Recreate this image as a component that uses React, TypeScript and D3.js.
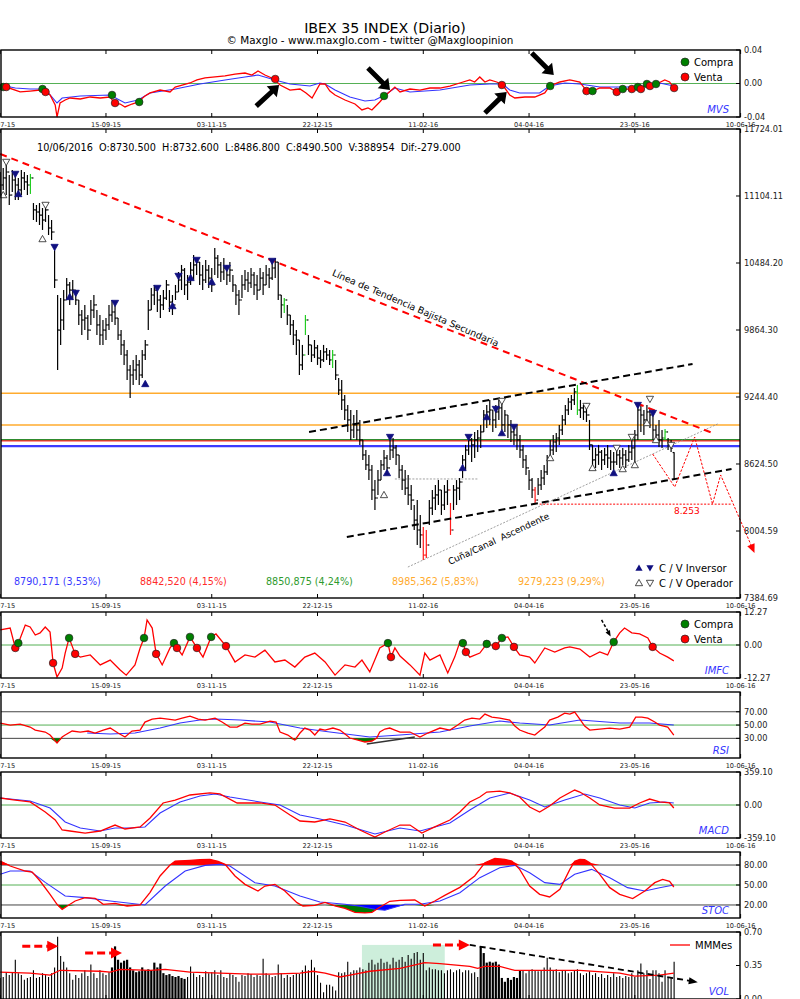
import React from 'react';
import * as d3 from 'd3';

// ---------------- DATA ----------------
const DATE_LABELS = ['28-07-15', '15-09-15', '03-11-15', '22-12-15', '11-02-16', '04-04-16', '23-05-16', '10-06-16'];
const DATE_INDEX = [0, 35, 70, 105, 140, 175, 210, 245];

const HIGH = [11326,11363,11391,11298,11345,11326,11271,11345,11326,11298,11308,11039,11021,11039,10993,11021,10928,10882,10604,10188,
10160,10234,10345,10308,10327,10234,10142,10049,10096,10003,10142,10188,10049,10003,9957,9975,10096,10142,10096,9975,
9864,9772,9679,9541,9587,9633,9587,9679,9772,10142,10253,10281,10234,10188,10234,10327,10234,10188,10281,10401,
10466,10438,10373,10493,10558,10530,10493,10466,10512,10466,10438,10623,10558,10493,10530,10466,10493,10373,10281,10234,
10373,10419,10401,10438,10401,10373,10438,10401,10466,10438,10493,10530,10493,10188,10160,10096,10003,9957,9864,9772,
9726,10003,9818,9726,9772,9726,9679,9726,9698,9679,9679,9587,9420,9402,9263,9171,9124,9078,9124,9032,
8847,8754,8708,8616,8476,8569,8662,8754,8708,8847,8865,8801,8708,8616,8569,8523,8430,8245,8291,8153,
8042,8014,8291,8384,8430,8476,8384,8430,8476,8264,8430,8476,8495,8708,8801,8893,8865,8921,8939,8986,
9124,9171,9217,9124,9171,9217,9198,9124,9078,9032,8986,8986,8893,8801,8708,8569,8495,8412,8495,8569,
8616,8708,8847,8893,8912,8986,9078,9171,9235,9263,9328,9356,9217,9171,9189,9032,8801,8773,8801,8754,
8773,8801,8754,8735,8773,8754,8773,8754,8801,8847,8939,9171,9171,9124,9171,9143,9124,8986,9032,8939,
8949,8865,8847,8732.6];
const LOW = [11086,11160,11113,11021,11141,11067,11067,11113,11160,11113,11123,10882,10864,10836,10790,10864,10743,10697,10253,9494,
9726,9864,10142,10096,10142,10096,9911,9818,9864,9772,9911,9975,9818,9726,9726,9772,9864,9938,9911,9772,
9633,9541,9402,9235,9356,9402,9356,9420,9587,9864,10049,10096,10031,9975,10049,10142,10031,10003,10142,10216,
10234,10188,10142,10281,10327,10373,10281,10234,10299,10253,10216,10373,10345,10308,10327,10281,10308,10216,10096,10003,
10160,10234,10216,10253,10188,10142,10234,10188,10281,10253,10327,10345,10142,9975,10021,9911,9818,9726,9633,9448,
9494,9818,9633,9568,9605,9541,9513,9568,9587,9541,9513,9402,9263,9124,9032,8921,8847,8865,8847,8801,
8662,8569,8476,8291,8199,8338,8476,8569,8523,8662,8680,8616,8495,8384,8338,8245,8199,8014,7875,7847,
7736,7755,8060,8153,8199,8245,8153,8199,8245,7968,8199,8245,8291,8495,8569,8708,8643,8680,8735,8773,
8921,8958,8986,8921,8958,9032,8939,8921,8865,8828,8801,8754,8680,8588,8523,8384,8310,8264,8338,8384,
8430,8523,8662,8708,8735,8801,8893,8986,9078,9124,9171,9078,9050,9032,9013,8754,8588,8588,8616,8569,
8616,8588,8569,8569,8616,8588,8616,8588,8643,8662,8616,8847,8921,8893,8986,8958,8847,8828,8782,8773,
8847,8754,8735,8486.8];
const CLOSE = [11206,11271,11326,11113,11252,11206,11160,11271,11234,11206,11271,10975,10956,10928,10882,10975,10808,10771,10327,9864,
9957,10142,10281,10234,10234,10142,10003,9957,9975,9864,10049,10096,9911,9818,9864,9911,10003,10031,9975,9818,
9726,9633,9494,9448,9494,9541,9448,9633,9726,10049,10188,10234,10142,10096,10160,10281,10123,10096,10216,10327,
10419,10281,10308,10419,10466,10493,10373,10327,10419,10345,10281,10530,10466,10401,10438,10373,10419,10281,10188,10142,
10281,10327,10299,10373,10281,10234,10345,10281,10373,10345,10438,10493,10188,10096,10142,10003,9911,9818,9772,9541,
9633,9957,9726,9633,9698,9605,9587,9661,9633,9587,9633,9448,9309,9217,9124,9032,8939,8986,8939,8847,
8708,8616,8569,8384,8310,8476,8616,8680,8588,8754,8773,8708,8569,8476,8402,8338,8291,8106,8014,7968,
7782,7875,8217,8310,8338,8384,8245,8365,8384,8014,8384,8402,8458,8662,8754,8847,8801,8847,8865,8921,
9078,9106,9124,9032,9106,9143,8986,9078,8986,8921,8893,8847,8754,8662,8588,8476,8384,8291,8430,8495,
8551,8662,8754,8828,8865,8939,9032,9124,9198,9217,9291,9124,9143,9106,9078,8801,8662,8708,8735,8662,
8708,8680,8643,8643,8708,8680,8708,8662,8735,8773,8893,9124,9078,9032,9106,9078,8939,8893,8847,8865,
8921,8810,8769.5,8490.5];
const LAST_OPEN = 8730.5;
const LAST_DATE = '10/06/2016';
const LAST_VOLUME = 388954;
const GREEN_BARS = [10, 94, 101, 110, 191, 220];
const RED_BARS = [140, 141, 149, 177];

// markers: [index, type, price]  IB/IS = investor buy/sell, OB/OS = operator buy/sell
const SIGNALS: [number, string, number][] = [
  [1,'OB',11113],[2,'OS',11419],[5,'IS',11308],[6,'IB',11123],[14,'OB',10706],[15,'OS',11021],[18,'IS',10632],
  [23,'IB',10170],[25,'IS',10207],[38,'IS',10114],[48,'IB',9365],[52,'IS',10253],[57,'IB',10086],[59,'IS',10364],
  [63,'IB',10346],[65,'IS',10512],[70,'IB',10309],[75,'IS',10438],[90,'IS',10503],[127,'OB',8338],[128,'IB',8541],
  [129,'IS',8874],[153,'IB',8588],[155,'IS',8874],[161,'IB',9059],[164,'IS',9133],[166,'OS',9207],[166,'IB',8911],
  [170,'IS',8967],[182,'OB',8680],[194,'OS',9161],[196,'OB',8588],[203,'IB',8541],[204,'OS',8773],[206,'OB',8578],
  [209,'OS',8874],[210,'OB',8615],[211,'IS',9170],[214,'OB',9004],[215,'OS',9226],[216,'IS',9096],[217,'OB',8847],[222,'OS',8800]
];

const MAIN_TICKS = [11724.01, 11104.11, 10484.20, 9864.30, 9244.40, 8624.50, 8004.59, 7384.69];
const LEVELS = [8790.171, 8842.520, 8850.875, 8985.362, 9279.223];
const LEVEL_PCT = [3.53, 4.15, 4.24, 5.83, 9.29];
const TARGET = 8253;

const MVS_RED: [number, number][] = [[0,-0.0038],[2,-0.0042],[6.6,-0.0101],[9.9,-0.009],[13.2,-0.0078],[14.9,-0.0101],[16.5,-0.0137],[18.2,-0.0257],[18.8,-0.04],[19.8,-0.0233],[21.5,-0.0197],[23.1,-0.0173],[26.5,-0.0185],[29.8,-0.0161],[33.1,-0.0173],[36.4,-0.0161],[37.7,-0.0233],[39.7,-0.0245],[41.3,-0.028],[43.6,-0.0245],[45.6,-0.0221],[47.9,-0.0149],[49.6,-0.0113],[52.9,-0.0078],[56.2,-0.0101],[57.9,-0.0042],[60.2,-0.0018],[62.8,0.0006],[65.1,0.0042],[67.8,0.0066],[71.1,0.0078],[74.4,0.009],[77.7,0.0113],[81,0.0125],[83.3,0.0101],[85.3,0.0149],[87.6,0.0101],[90.6,0.0054],[92.6,-0.0018],[95.9,-0.0078],[99.2,-0.0066],[101.2,-0.0113],[103.2,-0.0173],[105.8,-0.0006],[107.5,-0.0006],[109.1,-0.009],[110.8,-0.0137],[114.1,-0.0197],[117.4,-0.0245],[119.7,-0.0316],[121.7,-0.0292],[123,-0.0316],[125.6,-0.0221],[127.3,-0.0149],[130.6,-0.0042],[132.3,-0.0101],[135.6,-0.0066],[138.9,-0.0078],[142.2,-0.0054],[145.5,-0.0054],[148.8,-0.003],[152.1,0.0006],[155.4,0.0042],[157,0.0018],[158.7,0.0078],[160.4,0.0018],[162,0.0042],[164.3,0.0018],[166.3,-0.0018],[168.6,-0.0137],[170.3,-0.0173],[173.6,-0.0161],[176.9,-0.0161],[180.2,-0.0113],[181.8,-0.003],[185.2,0.0018],[188.5,0.0042],[191.8,0.0018],[194.1,-0.009],[196.1,-0.009],[198.4,-0.0054],[201.7,-0.0054],[204,-0.0101],[206,-0.0066],[209,-0.0066],[212,-0.0066],[214,-0.0006],[214.9,-0.003],[217.2,-0.0006],[219.9,0.0042],[221.5,0.0018],[222.9,-0.0054]];
const MVS_BLUE: [number, number][] = [[0,-0.0018],[5,-0.0054],[9.9,-0.0066],[14.9,-0.0066],[18.8,-0.0233],[20.5,-0.0173],[26.5,-0.0149],[36.4,-0.0137],[41.3,-0.0233],[45.6,-0.0197],[49.6,-0.0113],[57.9,-0.0066],[66.1,-0.0006],[74.4,0.0042],[81,0.0078],[85.3,0.0101],[90.9,0.0042],[95.9,-0.0006],[102.5,-0.003],[105.8,0.0006],[107.5,-0.0006],[110.8,-0.0078],[115.7,-0.0161],[120.7,-0.0209],[124,-0.0197],[127.3,-0.0137],[130.6,-0.0054],[135.6,-0.0101],[145.5,-0.0078],[155.4,-0.0018],[162,-0.0006],[166.3,-0.0006],[168.6,-0.0078],[171.9,-0.0113],[178.5,-0.0113],[181.8,-0.003],[186.8,0.0006],[191.8,-0.0006],[198.4,-0.0042],[211.6,-0.0042],[218.2,0.0006],[222.9,-0.003]];
// [index, value, 1=compra 0=venta]
const MVS_SIGNALS: [number, number, number][] = [[1,-0.0042,1],[2,-0.0042,0],[14,-0.0066,1],[15,-0.0101,0],[37,-0.0137,1],[38,-0.0233,0],[46,-0.0221,1],[91,0.0054,0],[127,-0.0149,1],[166,-0.0018,0],[182,-0.003,1],[194,-0.009,0],[196,-0.009,1],[204,-0.0101,0],[206,-0.0066,1],[209,-0.0066,0],[211,-0.0042,1],[212,-0.0066,0],[214,-0.0006,1],[215,-0.003,0],[217,-0.0006,1],[223,-0.0054,0]];

const IMFC: [number, number][] = [[0,5.6],[3.3,6.3],[5,-1.1],[6,0.7],[8.3,7.4],[9.9,6.7],[11.6,3.7],[13.2,4.5],[14.9,6.7],[16.5,4.8],[17.5,-6.7],[18.8,-11.9],[20.5,-8.6],[21.5,-3],[22.8,2.6],[24.8,-3.3],[26.5,-4.5],[29.8,-3.7],[33.1,-7.4],[36.4,-5.6],[39.7,-9.3],[41.7,-11.2],[44.6,-7.4],[46.3,-1.1],[47.6,2.6],[48.6,9.3],[50.3,6.3],[51.6,-3.3],[53.6,-7.4],[56.2,-1.1],[57.5,0.7],[58.5,-1.1],[60.2,-3.7],[62.8,3],[65.1,-1.1],[67.1,-4.5],[69.8,3],[71.4,4.1],[74.7,-0.4],[77.7,-6.3],[81,-3.7],[84.3,-4.5],[87.6,-1.9],[90.9,-6.3],[94.2,-5.6],[97.5,-8.2],[100.8,-4.5],[104.1,-3],[107.5,-6.3],[110.8,-11.2],[114.1,-7.4],[117.4,-8.2],[119.7,-5.6],[122.3,-10],[125.6,-1.1],[128.3,0.7],[129.3,-4.5],[130.6,-1.1],[132.3,-4.1],[135.6,-7.4],[138.9,-11.2],[140.5,-3],[142.2,-5.6],[145.5,-3.7],[148.1,-10.4],[150.4,-4.5],[152.1,1.1],[153.1,0.7],[154.1,-2.6],[155.4,-4.5],[158.7,-3],[161,0.4],[164,-0.4],[166,2.6],[168,3],[170,-0.7],[171.9,-3.7],[175.2,-4.5],[176.9,-6.7],[180.2,-1.1],[183.5,-2.6],[186.8,-1.1],[188.5,-0.7],[191.8,-1.5],[195.1,-4.5],[198.4,-2.6],[201,-3.7],[203,1.1],[205,4.5],[206.6,6.3],[209,4.5],[211.6,4.1],[214.3,2.6],[215.9,-0.7],[218.2,-3],[220.9,-4.5],[222.9,-5.9]];
const IMFC_SIGNALS: [number, number, number][] = [[5,-1.1,0],[6,0.7,1],[17.5,-6.7,0],[22.8,2.6,1],[24.8,-3.3,0],[47.6,2.6,1],[51.6,-3.3,0],[57.5,0.7,1],[58.5,-1.1,0],[62.8,3,1],[65.1,-1.1,0],[69.8,3,1],[74.7,-0.4,0],[128.3,0.7,1],[129.3,-4.5,0],[153.1,0.7,1],[154.1,-2.6,0],[161,0.4,1],[164,-0.4,0],[166,2.6,1],[170,-0.7,0],[203,1.1,1],[215.9,-0.7,0]];

const RSI: [number, number][] = [[0,53],[3.3,50],[6.6,51.5],[9.9,47],[11.6,42.5],[14.9,39.5],[16.5,35],[18.8,23],[20.5,32],[21.5,35],[23.8,41],[26.5,39.5],[29.1,41],[31.4,38],[34.1,42.5],[36.4,45.5],[39,38],[41.3,32],[43.6,41],[46.3,42.5],[47.9,54.5],[50.3,59],[52.9,60.5],[55.5,59],[57.9,57.5],[60.2,60.5],[62.8,63.5],[65.5,59],[67.8,57.5],[71.1,60.5],[73.4,54.5],[76,47],[78.4,47],[81,53],[83.3,51.5],[86,51.5],[89.3,56],[91.3,54.5],[92.6,39.5],[95.2,35],[97.5,27.5],[99.2,38],[100.8,45.5],[102.5,42.5],[104.1,35],[105.8,44],[107.5,42.5],[110.1,45.5],[112.4,42.5],[114.1,36.5],[115.7,30.5],[118.4,27.5],[120.7,24.5],[123,26],[124.6,30.5],[125.6,39.5],[127.3,44],[128.9,45.5],[130.6,42.5],[132.3,39.5],[135.6,39.5],[138.9,32],[141.5,38],[145.5,45.5],[148.8,42.5],[151.4,50],[153.7,57.5],[156.1,60.5],[158.7,59],[160.4,66.5],[162.7,62],[165.3,60.5],[168.6,57.5],[170.3,48.5],[171.9,42.5],[174.6,38],[176.9,35],[178.5,41],[180.2,47],[181.8,57.5],[184.5,62],[186.8,68],[188.5,66.5],[190.1,69.5],[191.8,59],[193.4,48.5],[195.1,42.5],[198.4,44],[201.7,45.5],[205,44],[208.3,47],[210.3,62],[212.3,62],[214.3,60.5],[216.6,54.5],[218.2,50],[220.9,47],[222.9,35]];
const RSI_MA: [number, number][] = [[28.8,38],[36.4,36.5],[44.6,38],[52.9,45.5],[59.5,53],[66.1,57.5],[71.1,59],[79.4,57.5],[89.3,54.5],[99.2,45.5],[109.1,39.5],[122.3,32],[132.3,35],[145.5,39.5],[155.4,48.5],[165.3,56],[171.9,53],[181.8,50],[191.8,57.5],[205,53],[214.9,53],[222.9,50]];
const RSI_DIVERGENCE: [number, number][] = [[121.3,21.5],[137.2,32]];

const MACD: [number, number][] = [[0,76],[5,54],[9.9,33],[14.9,-76],[18.2,-163],[20.5,-272],[23.1,-283],[28.1,-305],[33.1,-283],[38,-218],[41.3,-261],[46.3,-239],[49.6,-141],[53.9,22],[57.9,54],[62.8,109],[69.4,131],[72.7,120],[78.4,22],[86,22],[90.9,0],[95.9,-109],[99.2,-174],[104.1,-185],[109.1,-152],[114.1,-185],[119,-272],[124,-348],[127.3,-294],[132.3,-218],[135.6,-218],[139.5,-305],[143.8,-239],[148.8,-163],[152.1,-76],[155.4,33],[158.7,87],[161,141],[165.3,152],[168.6,131],[171.9,87],[175.2,-22],[178.5,-76],[181.8,-11],[185.2,76],[190.1,163],[191.8,141],[195.1,76],[198.4,0],[203.3,-33],[208.3,-33],[211.6,22],[214.9,65],[218.2,33],[221.5,22],[222.9,-33]];
const MACD_SIGNAL: [number, number][] = [[0,76],[9.9,44],[16.5,-33],[21.5,-185],[26.5,-250],[33.1,-283],[38,-250],[43,-250],[47.9,-239],[52.9,-87],[59.5,33],[66.1,98],[71.1,120],[76,87],[86,33],[92.6,0],[99.2,-109],[105.8,-152],[114.1,-218],[124,-316],[132.3,-250],[138.9,-283],[148.8,-196],[155.4,-54],[162,76],[168.6,131],[175.2,54],[180.2,-22],[186.8,54],[193.4,120],[198.4,76],[205,0],[210,-33],[214.9,22],[219.9,33],[222.9,22]];

const STOC_K: [number, number][] = [[0,86],[3.3,78.5],[8.3,71],[10.6,69.5],[13.2,56],[16.5,36],[18.8,21],[20.5,13.5],[22.2,18.5],[24.8,26],[28.1,31],[31.4,30],[34.1,21],[38,22.5],[42,18.5],[46.3,20],[49.6,39],[52.9,63.5],[56.2,80],[57.9,86],[62.8,87],[66.1,88],[69.4,88.5],[72.1,85.5],[74.4,81],[77.7,63.5],[81,51],[85.3,41],[87.6,48.5],[90.9,51],[94.2,41],[98.2,23.5],[100.2,18.5],[104.1,19.5],[107.5,24],[110.8,18.5],[114.1,15],[117.4,9],[120.7,8],[123,9],[125.6,16.5],[128.9,25.5],[132.3,27],[137.2,27.5],[140.5,18.5],[143.8,26],[147.1,34.5],[152.1,46.5],[157,63.5],[160.4,83.5],[163.7,90],[167,88.5],[169.3,86],[171.9,73.5],[175.2,48.5],[178.5,36],[181.8,32],[185.2,43.5],[188.5,73.5],[190.1,85.5],[191.8,88.5],[193.4,88],[195.1,83.5],[198.4,66],[201.7,46],[205,36],[209.3,29.5],[213.3,41],[216.6,53.5],[219.2,58.5],[221.5,55.5],[222.9,47]];
const STOC_D: [number, number][] = [[0,66],[3.3,71],[9.9,71],[14.9,54],[21.5,33.5],[28.1,31],[36.4,26],[47.9,20],[54.6,48.5],[61.2,71],[67.8,79.5],[72.7,81],[76,78.5],[84.3,53.5],[90.9,48.5],[99.2,33.5],[105.8,24.5],[114.1,21],[119,18],[124,13.5],[127.3,12],[130.6,16.5],[133.9,21],[138.9,21],[145.5,26],[152.1,38.5],[158.7,61],[165.3,76],[170.3,79.5],[175.2,68.5],[180.2,53.5],[185.2,51],[190.1,66],[195.7,73.5],[201.7,61],[207.6,46],[213.3,41],[218.2,46],[222.9,50]];

const VOLUME = [0.22,0.23,0.28,0.25,0.28,0.41,0.27,0.25,0.2,0.22,0.23,0.3,0.22,0.23,0.27,0.25,0.23,0.27,0.33,0.65,
0.45,0.39,0.33,0.27,0.2,0.25,0.22,0.27,0.3,0.24,0.36,0.27,0.22,0.3,0.27,0.25,0.28,0.33,0.55,0.41,
0.38,0.4,0.41,0.33,0.3,0.28,0.29,0.33,0.3,0.31,0.3,0.38,0.33,0.37,0.27,0.25,0.26,0.24,0.23,0.24,
0.22,0.21,0.23,0.34,0.27,0.23,0.25,0.23,0.29,0.27,0.28,0.3,0.25,0.3,0.23,0.22,0.27,0.25,0.23,0.18,
0.25,0.24,0.27,0.26,0.23,0.25,0.24,0.42,0.27,0.25,0.23,0.24,0.36,0.27,0.22,0.25,0.23,0.25,0.27,0.26,
0.3,0.35,0.3,0.41,0.33,0.25,0.17,0.07,0.15,0.15,0.13,0.09,0.28,0.27,0.28,0.39,0.28,0.3,0.3,0.33,
0.31,0.3,0.38,0.41,0.36,0.38,0.42,0.38,0.39,0.36,0.43,0.39,0.41,0.44,0.39,0.46,0.42,0.48,0.49,0.41,
0.48,0.3,0.33,0.31,0.31,0.3,0.3,0.27,0.3,0.31,0.28,0.3,0.31,0.28,0.3,0.3,0.27,0.28,0.23,0.55,
0.48,0.38,0.39,0.38,0.39,0.36,0.22,0.18,0.22,0.2,0.23,0.22,0.3,0.3,0.27,0.3,0.31,0.3,0.29,0.3,
0.33,0.43,0.33,0.3,0.31,0.28,0.3,0.3,0.27,0.28,0.3,0.31,0.27,0.25,0.27,0.29,0.25,0.27,0.23,0.26,
0.22,0.25,0.23,0.27,0.23,0.24,0.22,0.24,0.23,0.27,0.23,0.3,0.37,0.27,0.3,0.21,0.3,0.3,0.27,0.18,
0.3,0.22,0.22,0.39];
const VOLUME_BOLD: [number, number][] = [[37, 61], [159, 172]];
const MMMES: [number, number][] = [[0,0.28],[9.9,0.27],[16.5,0.25],[19.8,0.3],[33.1,0.29],[36.4,0.28],[39.7,0.31],[49.6,0.3],[54.6,0.31],[62.8,0.28],[82.7,0.26],[89.3,0.26],[99.2,0.27],[103.5,0.29],[107.5,0.27],[112.4,0.23],[115.7,0.25],[122.3,0.29],[132.3,0.32],[140.5,0.38],[145.5,0.37],[155.4,0.34],[158,0.32],[160.4,0.34],[165.3,0.34],[170.3,0.3],[178.5,0.3],[191.8,0.3],[205,0.27],[210,0.24],[218.2,0.25],[222.9,0.27]];

// annotation anchors in data space [index, price]
const TREND_DOWN: [number, number][] = [[0, 11493], [235.7, 8911]];
const CHANNEL_UP: [number, number][] = [[102.2, 8920], [229.1, 9550]];
const CHANNEL_LOW: [number, number][] = [[114.7, 7949], [242, 8578]];
const WEDGE: [number, number][] = [[134.9, 7671], [237.4, 8995]];
const GRAY_LEVEL: [number, number][] = [[130.6, 8486], [158, 8486]];
const TARGET_SPAN = [178.5, 242];
const PROJECTION: [number, number][] = [[215.9, 8717], [223.2, 8412], [229.8, 8874], [235.7, 8254], [238.4, 8523], [249.6, 7801]];
const MVS_ARROWS: [number, number, number, number][] = [[84.7,-0.0270,92.3,-0.0018],[121.7,0.0185,129.0,-0.0078],[160.4,-0.0352,167.6,-0.0101],[175.9,0.0364,183.2,0.0101]];
const IMFC_ARROW: [number, number, number, number] = [199.0, 9.3, 201.5, 4.3];
const VOL_RED_ARROWS: [number, number, number][] = [[7.3, 19.2, 0.55], [28.1, 40.3, 0.48], [143.2, 155.4, 0.565]];
const VOL_TREND: [number, number, number, number] = [155.4, 0.565, 230.5, 0.178];
const VOL_ZONE = [119.7, 147.1, 0.565];

// ---------------- LAYOUT ----------------
const FONT = 'DejaVu Sans, sans-serif';
const XL = 1, XR = 740;
const P = {
  mvs: { t: 50, b: 117 },
  main: { t: 129, b: 598 },
  imfc: { t: 612, b: 678 },
  rsi: { t: 692, b: 758 },
  macd: { t: 772, b: 838 },
  stoc: { t: 852, b: 918 },
  vol: { t: 932, b: 999 },
};

function arrowPath(x1: number, y1: number, x2: number, y2: number, shaft: number, headL: number, headW: number) {
  const dx = x2 - x1, dy = y2 - y1, len = Math.hypot(dx, dy);
  const ux = dx / len, uy = dy / len, px = -uy, py = ux;
  const bx = x2 - ux * headL, by = y2 - uy * headL;
  const pts = [
    [x1 + px * shaft / 2, y1 + py * shaft / 2],
    [bx + px * shaft / 2, by + py * shaft / 2],
    [bx + px * headW / 2, by + py * headW / 2],
    [x2, y2],
    [bx - px * headW / 2, by - py * headW / 2],
    [bx - px * shaft / 2, by - py * shaft / 2],
    [x1 - px * shaft / 2, y1 - py * shaft / 2],
  ];
  return 'M' + pts.map(p => p[0].toFixed(1) + ',' + p[1].toFixed(1)).join('L') + 'Z';
}
function headPath(x1: number, y1: number, x2: number, y2: number, headL: number, headW: number) {
  const dx = x2 - x1, dy = y2 - y1, len = Math.hypot(dx, dy);
  const ux = dx / len, uy = dy / len, px = -uy, py = ux;
  const bx = x2 - ux * headL, by = y2 - uy * headL;
  return `M${x2},${y2}L${bx + px * headW / 2},${by + py * headW / 2}L${bx - px * headW / 2},${by - py * headW / 2}Z`;
}
function tri(cx: number, cy: number, up: boolean, s = 3.6) {
  return up
    ? `M${cx},${cy - s}L${cx + s},${cy + s * 0.75}L${cx - s},${cy + s * 0.75}Z`
    : `M${cx},${cy + s}L${cx + s},${cy - s * 0.75}L${cx - s},${cy - s * 0.75}Z`;
}
const fmt2 = (v: number) => v.toFixed(2);
const comma = (v: number, d: number) => v.toFixed(d).replace('.', ',');

export default function App() {
  const x = d3.scaleLinear().domain([0, 245]).range([0.2, 740.6]);
  const yMain = d3.scaleLinear().domain([7384.69, 11724.01]).range([P.main.b, P.main.t]);
  const yMvs = d3.scaleLinear().domain([-0.04, 0.04]).range([P.mvs.b, P.mvs.t]);
  const yImfc = d3.scaleLinear().domain([-12.27, 12.27]).range([P.imfc.b, P.imfc.t]);
  const yRsi = d3.scaleLinear().domain([0, 100]).range([758.3, 691.8]);
  const yMacd = d3.scaleLinear().domain([-359.1, 359.1]).range([P.macd.b, P.macd.t]);
  const yStoc = d3.scaleLinear().domain([0, 100]).range([918.3, 851.7]);
  const yVol = d3.scaleLinear().domain([0, 0.7]).range([P.vol.b, P.vol.t]);

  const lineOf = (ys: d3.ScaleLinear<number, number>) => d3.line<[number, number]>().x(d => x(d[0])).y(d => ys(d[1]));

  const opens = CLOSE.map((c, i) => (i === 0 ? c : i === CLOSE.length - 1 ? LAST_OPEN : CLOSE[i - 1]));
  const n = CLOSE.length;
  const dif = CLOSE[n - 1] - CLOSE[n - 2];

  const frame = (key: string, t: number, b: number, ticks: number[], ys: d3.ScaleLinear<number, number>, fmt: (v: number) => string, title?: string) => (
    <g key={key}>
      <rect x={XL} y={t} width={XR - XL} height={b - t} fill="none" stroke="#000" strokeWidth={1.4} />
      {DATE_INDEX.map((d, i) => (
        <g key={i}>
          <line x1={x(d)} x2={x(d)} y1={t} y2={t + 4} stroke="#000" strokeWidth={1} />
          <line x1={x(d)} x2={x(d)} y1={b} y2={b - 4} stroke="#000" strokeWidth={1} />
          <text x={x(d)} y={b + 10} fontSize={6.6} textAnchor="middle" fill="#222">{DATE_LABELS[i]}</text>
        </g>
      ))}
      {ticks.map((v, i) => (
        <g key={'t' + i}>
          <line x1={XR - 4} x2={XR} y1={ys(v)} y2={ys(v)} stroke="#000" strokeWidth={1} />
          <text x={XR + 4} y={ys(v)} dy="0.35em" fontSize={8.2} fill="#222">{fmt(v)}</text>
        </g>
      ))}
      {title && <text x={729} y={b - 4} fontSize={10} fontStyle="italic" fill="#3333ff" textAnchor="end">{title}</text>}
    </g>
  );

  const legendCV = (y1: number) => (
    <g>
      <circle cx={685} cy={y1} r={4} fill="#008000" stroke="#222" strokeWidth={0.7} />
      <text x={694} y={y1} dy="0.35em" fontSize={10}>Compra</text>
      <circle cx={685} cy={y1 + 15} r={4} fill="#ff0000" stroke="#222" strokeWidth={0.7} />
      <text x={694} y={y1 + 15} dy="0.35em" fontSize={10}>Venta</text>
    </g>
  );

  const levelColors = ['#3b3bff', '#ff2a2a', '#2e8b2e', '#ffab2e', '#ffab2e'];
  const levelWidths = [2.4, 2, 1.3, 1.5, 1.5];
  const levelOrder = [3, 4, 0, 1, 2];

  const belowArea = (ys: d3.ScaleLinear<number, number>, th: number) =>
    d3.area<[number, number]>().x(d => x(d[0])).y0(ys(th)).y1(d => ys(Math.min(d[1], th)));
  const aboveArea = (ys: d3.ScaleLinear<number, number>, th: number) =>
    d3.area<[number, number]>().x(d => x(d[0])).y0(ys(th)).y1(d => ys(Math.max(d[1], th)));

  const isBold = (i: number) => VOLUME_BOLD.some(r => i >= r[0] && i <= r[1]);

  return (
    <svg width={800} height={999} style={{ position: 'absolute', left: 0, top: 0, background: '#fff' }} fontFamily={FONT}>
      <rect x={0} y={0} width={800} height={999} fill="#fff" />
      {/* Titles */}
      <text x={385} y={33} fontSize={14.2} textAnchor="middle" fill="#000">IBEX 35 INDEX (Diario)</text>
      <text x={370} y={44} fontSize={10.4} textAnchor="middle" fill="#000">© Maxglo - www.maxglo.com - twitter @Maxgloopinion</text>

      {/* ---------- MVS ---------- */}
      <line x1={XL} x2={XR} y1={yMvs(0)} y2={yMvs(0)} stroke="#55b055" strokeWidth={1} />
      <path d={lineOf(yMvs)(MVS_BLUE) || ''} fill="none" stroke="#3333ff" strokeWidth={1.1} />
      <path d={lineOf(yMvs)(MVS_RED) || ''} fill="none" stroke="#ff0000" strokeWidth={1.3} />
      {MVS_SIGNALS.map((s, i) => (
        <circle key={i} cx={x(s[0])} cy={yMvs(s[1])} r={3.8} fill={s[2] ? '#008000' : '#ff0000'} stroke="#222" strokeWidth={0.7} />
      ))}
      {MVS_ARROWS.map((a, i) => (
        <path key={i} d={arrowPath(x(a[0]), yMvs(a[1]), x(a[2]), yMvs(a[3]), 5, 10, 15)} fill="#000" />
      ))}
      {legendCV(62)}
      {frame('mvs', P.mvs.t, P.mvs.b, [0.04, 0, -0.04], yMvs, fmt2, 'MVS')}

      {/* ---------- MAIN ---------- */}
      <text x={37} y={151} fontSize={9.7} style={{ whiteSpace: 'pre' }}>
        {`${LAST_DATE}  O:${LAST_OPEN.toFixed(3)}  H:${HIGH[n - 1].toFixed(3)}  L:${LOW[n - 1].toFixed(3)}  C:${CLOSE[n - 1].toFixed(3)}  V:${LAST_VOLUME}  Dif:${dif.toFixed(3)}`}
      </text>
      {levelOrder.map(k => (
        <line key={k} x1={XL} x2={XR} y1={yMain(LEVELS[k])} y2={yMain(LEVELS[k])} stroke={levelColors[k]} strokeWidth={levelWidths[k]} />
      ))}
      {LEVELS.map((v, k) => (
        <text key={k} x={14 + k * 126} y={585} fontSize={9.6} fill={levelColors[k] === '#2e8b2e' ? '#2e9a2e' : levelColors[k]}>
          {`${comma(v, 3)} (${comma(LEVEL_PCT[k], 2)}%)`}
        </text>
      ))}
      {/* wedge & gray level */}
      <line x1={x(WEDGE[0][0])} y1={yMain(WEDGE[0][1])} x2={x(WEDGE[1][0])} y2={yMain(WEDGE[1][1])} stroke="#888" strokeWidth={0.8} strokeDasharray="2,1.5" />
      <line x1={x(GRAY_LEVEL[0][0])} y1={yMain(GRAY_LEVEL[0][1])} x2={x(GRAY_LEVEL[1][0])} y2={yMain(GRAY_LEVEL[1][1])} stroke="#888" strokeWidth={0.8} strokeDasharray="2,1.5" />
      {/* bars */}
      {CLOSE.map((c, i) => {
        const col = GREEN_BARS.includes(i) ? '#22cc22' : RED_BARS.includes(i) ? '#ff1a1a' : '#000';
        const xi = x(i);
        return (
          <g key={i} stroke={col} strokeWidth={1.2}>
            <line x1={xi} x2={xi} y1={yMain(HIGH[i])} y2={yMain(LOW[i])} />
            <line x1={xi - 1.5} x2={xi} y1={yMain(opens[i])} y2={yMain(opens[i])} />
            <line x1={xi} x2={xi + 1.5} y1={yMain(c)} y2={yMain(c)} />
          </g>
        );
      })}
      {/* trend lines */}
      <line x1={x(TREND_DOWN[0][0])} y1={yMain(TREND_DOWN[0][1])} x2={x(TREND_DOWN[1][0])} y2={yMain(TREND_DOWN[1][1])} stroke="#ff0000" strokeWidth={2} strokeDasharray="7,5" />
      <line x1={x(CHANNEL_UP[0][0])} y1={yMain(CHANNEL_UP[0][1])} x2={x(CHANNEL_UP[1][0])} y2={yMain(CHANNEL_UP[1][1])} stroke="#000" strokeWidth={2} strokeDasharray="7,4" />
      <line x1={x(CHANNEL_LOW[0][0])} y1={yMain(CHANNEL_LOW[0][1])} x2={x(CHANNEL_LOW[1][0])} y2={yMain(CHANNEL_LOW[1][1])} stroke="#000" strokeWidth={2} strokeDasharray="7,4" />
      <line x1={x(TARGET_SPAN[0])} x2={x(TARGET_SPAN[1])} y1={yMain(TARGET)} y2={yMain(TARGET)} stroke="#ff0000" strokeWidth={1} strokeDasharray="2,1.5" />
      <path d={d3.line<[number, number]>().x(d => x(d[0])).y(d => yMain(d[1]))(PROJECTION.slice(0, -1).concat([[
        PROJECTION[5][0] - (PROJECTION[5][0] - PROJECTION[4][0]) * 0.08, PROJECTION[5][1] - (PROJECTION[5][1] - PROJECTION[4][1]) * 0.08]])) || ''}
        fill="none" stroke="#ff0000" strokeWidth={1} strokeDasharray="2.5,1.5" />
      <path d={headPath(x(PROJECTION[4][0]), yMain(PROJECTION[4][1]), x(PROJECTION[5][0]), yMain(PROJECTION[5][1]), 9, 8)} fill="#ff0000" />
      <text x={x(227.2)} y={yMain(TARGET) + 10} fontSize={9} fill="#ff0000" textAnchor="middle">{TARGET.toLocaleString('de-DE')}</text>
      {/* annotation texts */}
      <text transform={`translate(${x(109.6)},${yMain(10370)}) rotate(23.3)`} fontSize={9.4} fill="#000">Línea de Tendencia Bajista Secundaria</text>
      <text transform={`translate(${x(148.8)},${yMain(7690)}) rotate(-25)`} fontSize={9} fill="#000" style={{ whiteSpace: 'pre' }}>Cuña/Canal  Ascendente</text>
      {/* signals */}
      {SIGNALS.map((s, i) => {
        const up = s[1] === 'IB' || s[1] === 'OB';
        const filled = s[1][0] === 'I';
        return <path key={i} d={tri(x(s[0]), yMain(s[2]), up)} fill={filled ? '#101080' : '#fff'} stroke={filled ? '#101080' : '#222'} strokeWidth={0.8} />;
      })}
      {/* legend */}
      <path d={tri(639, 568, true)} fill="#101080" />
      <path d={tri(650, 568, false)} fill="#101080" />
      <text x={659} y={568} dy="0.35em" fontSize={10}>C / V Inversor</text>
      <path d={tri(639, 583, true)} fill="#fff" stroke="#222" strokeWidth={0.8} />
      <path d={tri(650, 583, false)} fill="#fff" stroke="#222" strokeWidth={0.8} />
      <text x={659} y={583} dy="0.35em" fontSize={10}>C / V Operador</text>
      {frame('main', P.main.t, P.main.b, MAIN_TICKS, yMain, fmt2)}

      {/* ---------- IMFC ---------- */}
      <line x1={XL} x2={XR} y1={yImfc(0)} y2={yImfc(0)} stroke="#55b055" strokeWidth={1} />
      <path d={lineOf(yImfc)(IMFC) || ''} fill="none" stroke="#ff0000" strokeWidth={1.3} />
      {IMFC_SIGNALS.map((s, i) => (
        <circle key={i} cx={x(s[0])} cy={yImfc(s[1])} r={3.8} fill={s[2] ? '#008000' : '#ff0000'} stroke="#222" strokeWidth={0.7} />
      ))}
      <line x1={x(IMFC_ARROW[0])} y1={yImfc(IMFC_ARROW[1])} x2={x(IMFC_ARROW[2])} y2={yImfc(IMFC_ARROW[3])} stroke="#000" strokeWidth={1.5} strokeDasharray="3,2" />
      <path d={headPath(x(IMFC_ARROW[0]), yImfc(IMFC_ARROW[1]), x(IMFC_ARROW[2]) + 1.5, yImfc(IMFC_ARROW[3]) + 3, 6, 5)} fill="#000" />
      {legendCV(624)}
      {frame('imfc', P.imfc.t, P.imfc.b, [12.27, 0, -12.27], yImfc, fmt2, 'IMFC')}

      {/* ---------- RSI ---------- */}
      <line x1={XL} x2={XR} y1={yRsi(70)} y2={yRsi(70)} stroke="#444" strokeWidth={1} />
      <line x1={XL} x2={XR} y1={yRsi(30)} y2={yRsi(30)} stroke="#444" strokeWidth={1} />
      <line x1={XL} x2={XR} y1={yRsi(50)} y2={yRsi(50)} stroke="#55b055" strokeWidth={1} />
      <path d={belowArea(yRsi, 30)(RSI) || ''} fill="#007a00" />
      <path d={lineOf(yRsi)(RSI_MA) || ''} fill="none" stroke="#3333ff" strokeWidth={1.1} />
      <path d={lineOf(yRsi)(RSI) || ''} fill="none" stroke="#ff0000" strokeWidth={1.3} />
      <path d={lineOf(yRsi)(RSI_DIVERGENCE) || ''} fill="none" stroke="#333" strokeWidth={1.6} />
      {frame('rsi', P.rsi.t, P.rsi.b, [70, 50, 30], yRsi, fmt2, 'RSI')}

      {/* ---------- MACD ---------- */}
      <line x1={XL} x2={XR} y1={yMacd(0)} y2={yMacd(0)} stroke="#55b055" strokeWidth={1} />
      <path d={lineOf(yMacd)(MACD_SIGNAL) || ''} fill="none" stroke="#3333ff" strokeWidth={1.1} />
      <path d={lineOf(yMacd)(MACD) || ''} fill="none" stroke="#ff0000" strokeWidth={1.3} />
      {frame('macd', P.macd.t, P.macd.b, [359.1, 0, -359.1], yMacd, fmt2, 'MACD')}

      {/* ---------- STOC ---------- */}
      <line x1={XL} x2={XR} y1={yStoc(80)} y2={yStoc(80)} stroke="#444" strokeWidth={1} />
      <line x1={XL} x2={XR} y1={yStoc(20)} y2={yStoc(20)} stroke="#444" strokeWidth={1} />
      <line x1={XL} x2={XR} y1={yStoc(50)} y2={yStoc(50)} stroke="#55b055" strokeWidth={1} />
      <path d={belowArea(yStoc, 20)(STOC_K) || ''} fill="#007a00" />
      <path d={belowArea(yStoc, 20)(STOC_D) || ''} fill="#0000ff" />
      <path d={aboveArea(yStoc, 80)(STOC_K) || ''} fill="#ff0000" />
      <path d={lineOf(yStoc)(STOC_D) || ''} fill="none" stroke="#3333ff" strokeWidth={1.1} />
      <path d={lineOf(yStoc)(STOC_K) || ''} fill="none" stroke="#ff0000" strokeWidth={1.3} />
      {frame('stoc', P.stoc.t, P.stoc.b, [80, 50, 20], yStoc, fmt2, 'STOC')}

      {/* ---------- VOL ---------- */}
      <rect x={x(VOL_ZONE[0])} y={yVol(VOL_ZONE[2])} width={x(VOL_ZONE[1]) - x(VOL_ZONE[0])} height={yVol(0) - yVol(VOL_ZONE[2])} fill="#cdeedb" />
      {VOLUME.map((v, i) => (
        <line key={i} x1={x(i)} x2={x(i)} y1={yVol(0)} y2={yVol(v)} stroke="#000" strokeWidth={isBold(i) ? 2.2 : 1.1} />
      ))}
      <path d={lineOf(yVol)(MMMES) || ''} fill="none" stroke="#ff0000" strokeWidth={1.3} />
      {VOL_RED_ARROWS.map((a, i) => (
        <g key={i}>
          <line x1={x(a[0])} x2={x(a[1]) - 8} y1={yVol(a[2])} y2={yVol(a[2])} stroke="#ff0000" strokeWidth={3} strokeDasharray="8,4" />
          <path d={headPath(x(a[0]), yVol(a[2]), x(a[1]), yVol(a[2]), 11, 11)} fill="#ff0000" />
        </g>
      ))}
      <line x1={x(VOL_TREND[0])} y1={yVol(VOL_TREND[1])} x2={x(VOL_TREND[2])} y2={yVol(VOL_TREND[3])} stroke="#000" strokeWidth={1.8} strokeDasharray="6,4" />
      <path d={headPath(x(VOL_TREND[0]), yVol(VOL_TREND[1]), x(VOL_TREND[2]) + 1, yVol(VOL_TREND[3]) + 0.2, 9, 7)} fill="#000" />
      <line x1={670} x2={690} y1={945} y2={945} stroke="#ff0000" strokeWidth={1.3} />
      <text x={695} y={945} dy="0.35em" fontSize={10}>MMMes</text>
      {frame('vol', P.vol.t, P.vol.b, [0.7, 0.35, 0], yVol, fmt2, 'VOL')}
    </svg>
  );
}
